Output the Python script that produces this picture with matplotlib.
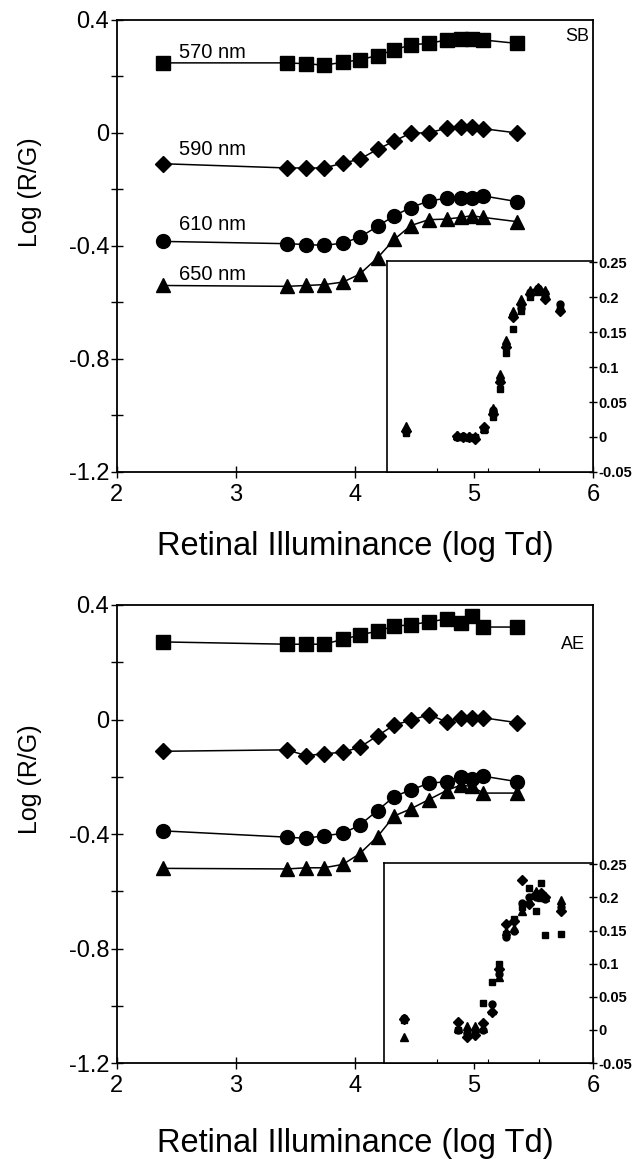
import matplotlib
matplotlib.use('Agg')
import matplotlib.pyplot as plt

plt.rcParams['font.family'] = ['Liberation Sans', 'DejaVu Sans']

# main panels: retinal illuminance (log Td)
illum = [2.39, 3.43, 3.59, 3.74, 3.90, 4.04, 4.19, 4.33, 4.47, 4.62, 4.77, 4.89, 4.98, 5.08, 5.36]

sb_570 = [0.248, 0.248, 0.245, 0.240, 0.250, 0.259, 0.274, 0.294, 0.312, 0.317, 0.329, 0.333, 0.333, 0.329, 0.317]
sb_590 = [-0.109, -0.124, -0.124, -0.124, -0.107, -0.093, -0.058, -0.029, 0.0, 0.0, 0.017, 0.021, 0.021, 0.015, 0.0]
sb_610 = [-0.384, -0.392, -0.395, -0.398, -0.390, -0.369, -0.331, -0.293, -0.264, -0.241, -0.231, -0.231, -0.229, -0.223, -0.243]
sb_650 = [-0.540, -0.543, -0.540, -0.537, -0.528, -0.500, -0.442, -0.377, -0.328, -0.307, -0.305, -0.299, -0.293, -0.299, -0.314]

ae_570 = [0.271, 0.263, 0.263, 0.263, 0.280, 0.295, 0.309, 0.326, 0.331, 0.341, 0.351, 0.337, 0.360, 0.323, 0.323]
ae_590 = [-0.111, -0.106, -0.126, -0.120, -0.114, -0.097, -0.057, -0.019, -0.003, 0.017, -0.008, 0.006, 0.006, 0.006, -0.011]
ae_610 = [-0.389, -0.411, -0.415, -0.406, -0.398, -0.369, -0.318, -0.269, -0.246, -0.223, -0.217, -0.200, -0.209, -0.198, -0.217]
ae_650 = [-0.520, -0.522, -0.518, -0.518, -0.506, -0.469, -0.409, -0.337, -0.312, -0.280, -0.248, -0.229, -0.234, -0.257, -0.257]

wavelengths = ['570 nm', '590 nm', '610 nm', '650 nm']
label_y = [0.283, -0.057, -0.324, -0.50]

# insets
sb_inset_x = [4.435, 4.86, 4.91, 4.96, 5.01, 5.09, 5.16, 5.22, 5.27, 5.33, 5.40, 5.47, 5.54, 5.60, 5.72]
sb_in_570 = [0.005, 0.0, 0.0, -0.002, 0.0, 0.010, 0.028, 0.068, 0.120, 0.155, 0.180, 0.200, 0.208, 0.205, 0.185]
sb_in_590 = [0.008, 0.002, 0.0, 0.0, -0.003, 0.014, 0.033, 0.078, 0.128, 0.172, 0.190, 0.205, 0.212, 0.198, 0.180]
sb_in_610 = [0.010, 0.0, 0.002, 0.0, 0.0, 0.012, 0.038, 0.082, 0.130, 0.175, 0.185, 0.207, 0.213, 0.200, 0.190]
sb_in_650 = [0.015, 0.003, 0.002, 0.002, 0.002, 0.013, 0.042, 0.090, 0.138, 0.180, 0.198, 0.210, 0.215, 0.210, 0.188]

ae_inset_x = [4.41, 4.87, 4.94, 5.01, 5.08, 5.15, 5.21, 5.27, 5.34, 5.40, 5.46, 5.52, 5.56, 5.60, 5.73]
ae_in_570 = [0.015, 0.0, -0.005, -0.003, 0.040, 0.072, 0.100, 0.145, 0.167, 0.185, 0.214, 0.179, 0.222, 0.144, 0.145]
ae_in_590 = [0.016, 0.012, -0.011, -0.008, 0.011, 0.027, 0.092, 0.160, 0.165, 0.227, 0.190, 0.205, 0.206, 0.200, 0.179]
ae_in_610 = [0.018, 0.0, -0.005, 0.0, 0.0, 0.039, 0.085, 0.140, 0.150, 0.192, 0.200, 0.200, 0.200, 0.198, 0.185]
ae_in_650 = [-0.011, 0.003, 0.006, 0.006, 0.003, 0.030, 0.080, 0.150, 0.154, 0.180, 0.196, 0.210, 0.200, 0.200, 0.196]

inset_ticks = [-0.05, 0, 0.05, 0.1, 0.15, 0.2, 0.25]
inset_ticklabels = ['-0.05', '0', '0.05', '0.1', '0.15', '0.2', '0.25']
inset_xticks = [4.69, 5.12, 5.55]

markers = ['s', 'D', 'o', '^']
msizes = [9.5, 8, 10, 10]
in_msizes = [4.8, 4.8, 5.0, 5.4]

fig = plt.figure(figsize=(6.34, 11.59), dpi=100)


def main_panel(rect, series, name, name_xy, with_labels, xlab_y):
    ax = fig.add_axes(rect)
    for ys, m, ms in zip(series, markers, msizes):
        ax.plot(illum, ys, color='black', lw=1.1, marker=m, ms=ms,
                markerfacecolor='black', markeredgecolor='black')
    ax.set_xlim(2, 6)
    ax.set_ylim(-1.2, 0.4)
    ax.set_xticks([2, 3, 4, 5, 6])
    ax.set_xticklabels(['2', '3', '4', '5', '6'])
    ax.set_yticks([-1.2, -0.8, -0.4, 0, 0.4])
    ax.set_yticklabels(['-1.2', '-0.8', '-0.4', '0', '0.4'])
    ax.set_yticks([-1.0, -0.6, -0.2, 0.2], minor=True)
    ax.tick_params(axis='both', which='major', direction='inout', length=8,
                   width=1.0, labelsize=17)
    ax.tick_params(axis='x', which='major', pad=4.5)
    ax.tick_params(axis='y', which='major', pad=1.5)
    ax.tick_params(axis='y', which='minor', direction='inout', length=8, width=1.0)
    for sp in ax.spines.values():
        sp.set_linewidth(1.3)
    ax.set_ylabel('Log (R/G)', fontsize=18, va='center')
    ax.yaxis.set_label_coords(-0.182, 0.62)
    ax.set_xlabel('Retinal Illuminance (log Td)', fontsize=23.5, va='center')
    ax.xaxis.set_label_coords(0.5, xlab_y)
    ax.text(name_xy[0], name_xy[1], name, fontsize=13, ha='center', va='center')
    if with_labels:
        for lab, ly in zip(wavelengths, label_y):
            ax.text(2.52, ly, lab, fontsize=14.5, ha='left', va='center')
    return ax


def inset_panel(rect, xs, series, xlim):
    ax = fig.add_axes(rect)
    for ys, m, ms in zip(series, markers, in_msizes):
        ax.plot(xs, ys, ls='none', marker=m, ms=ms, color='black')
    ax.set_xlim(*xlim)
    ax.set_ylim(-0.05, 0.252)
    ax.yaxis.tick_right()
    ax.set_yticks(inset_ticks)
    ax.set_yticklabels(inset_ticklabels, fontweight='bold')
    ax.tick_params(axis='y', direction='inout', length=6, width=1.0,
                   labelsize=10.5, pad=1)
    ax.set_xticks(inset_xticks)
    ax.set_xticklabels([])
    ax.tick_params(axis='x', direction='in', length=3, width=0.8)
    for sp in ax.spines.values():
        sp.set_linewidth(1.2)
    return ax


main_panel([0.1841, 0.5928, 0.7513, 0.3900], [sb_570, sb_590, sb_610, sb_650],
           'SB', (5.87, 0.34), True, -0.166)
inset_panel([0.6099, 0.5928, 0.3254, 0.1822], sb_inset_x,
            [sb_in_570, sb_in_590, sb_in_610, sb_in_650], (4.27, 6.0))

main_panel([0.1841, 0.0828, 0.7513, 0.3952], [ae_570, ae_590, ae_610, ae_650],
           'AE', (5.83, 0.263), False, -0.175)
inset_panel([0.6057, 0.0828, 0.3297, 0.1726], ae_inset_x,
            [ae_in_570, ae_in_590, ae_in_610, ae_in_650], (4.245, 6.0))

plt.savefig('out.png', dpi=100)
plt.close()
